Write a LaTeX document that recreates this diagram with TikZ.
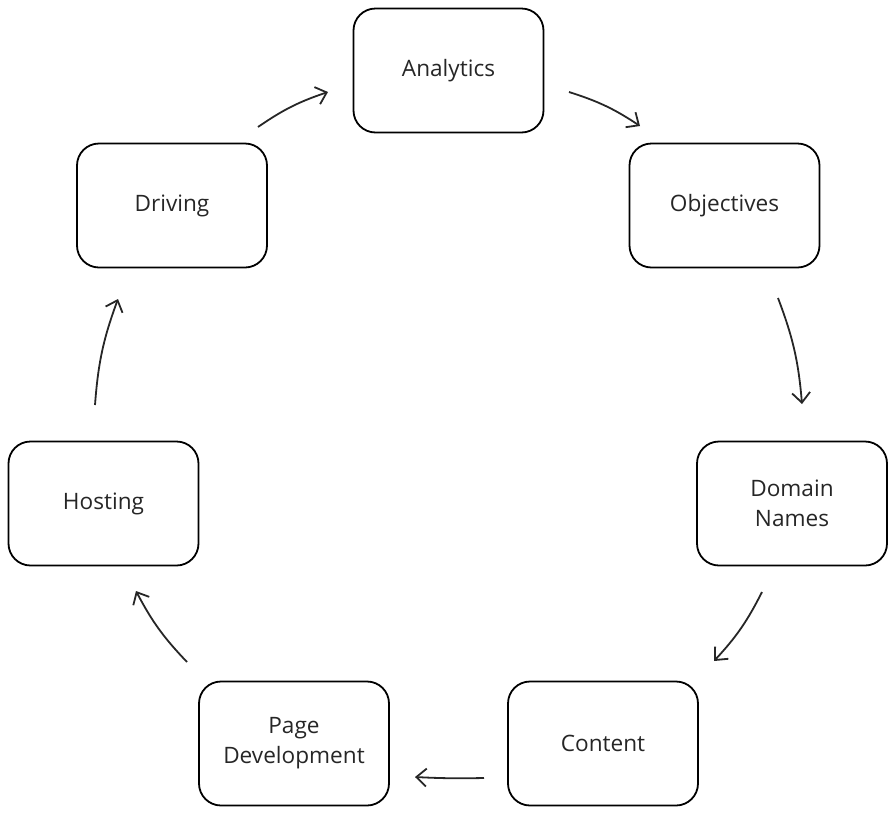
\documentclass[tikz,border=0pt]{standalone}
\usepackage{fontspec}
\setmainfont{Open Sans}
\usetikzlibrary{arrows.meta}

\newcommand{\varW}{95pt}
\newcommand{\varH}{62pt}
\newcommand{\varbend}{8}

\begin{document}
\begin{tikzpicture}[x=0.5pt, y=-0.5pt,
	box/.style={draw, line width=0.9pt, rounded corners=11pt, minimum width=\varW, minimum height=\varH, align=center, inner sep=2pt, font=\fontsize{11.3}{15}\selectfont, text=black!85},
	arr/.style={-{Straight Barb[length=5pt, width=9pt]}, line width=0.9pt, black!85}]

	\useasboundingbox (0,0) rectangle (890,815);

	% boxes
	\node [box] (analytics)  at (448.5,70.5)  {Analytics};
	\node [box] (objectives) at (724.5,205.5) {Objectives};
	\node [box] (domain)     at (792,503.5)   {Domain\\Names};
	\node [box] (content)    at (603,743.5)   {Content};
	\node [box] (pagedev)    at (294,743.5)   {Page\\Development};
	\node [box] (hosting)    at (103.5,503.5) {Hosting};
	\node [box] (driving)    at (172,205.5)   {Driving};

	% arrow ends
	\coordinate (driving-out)    at (258,127);
	\coordinate (analytics-in)   at (328,92);
	\coordinate (analytics-out)  at (569,92);
	\coordinate (objectives-in)  at (640,126);
	\coordinate (objectives-out) at (778,298);
	\coordinate (domain-in)      at (802,404);
	\coordinate (domain-out)     at (762,592);
	\coordinate (content-in)     at (714,661);
	\coordinate (content-out)    at (484,778);
	\coordinate (pagedev-in)     at (415,777);
	\coordinate (pagedev-out)    at (187,662);
	\coordinate (hosting-in)     at (136,591);
	\coordinate (hosting-out)    at (95,405);
	\coordinate (driving-in)     at (118,299);

	% arrows
	\draw [arr] (driving-out) to [bend left=\varbend] (analytics-in);
	\draw [arr] (analytics-out) to [bend left=\varbend] (objectives-in);
	\draw [arr] (objectives-out) to [bend left=\varbend] (domain-in);
	\draw [arr] (domain-out) to [bend left=\varbend] (content-in);
	\draw [arr] (content-out) to [bend left=2] (pagedev-in);
	\draw [arr] (pagedev-out) to [bend left=\varbend] (hosting-in);
	\draw [arr] (hosting-out) to [bend left=\varbend] (driving-in);
\end{tikzpicture}
\end{document}
